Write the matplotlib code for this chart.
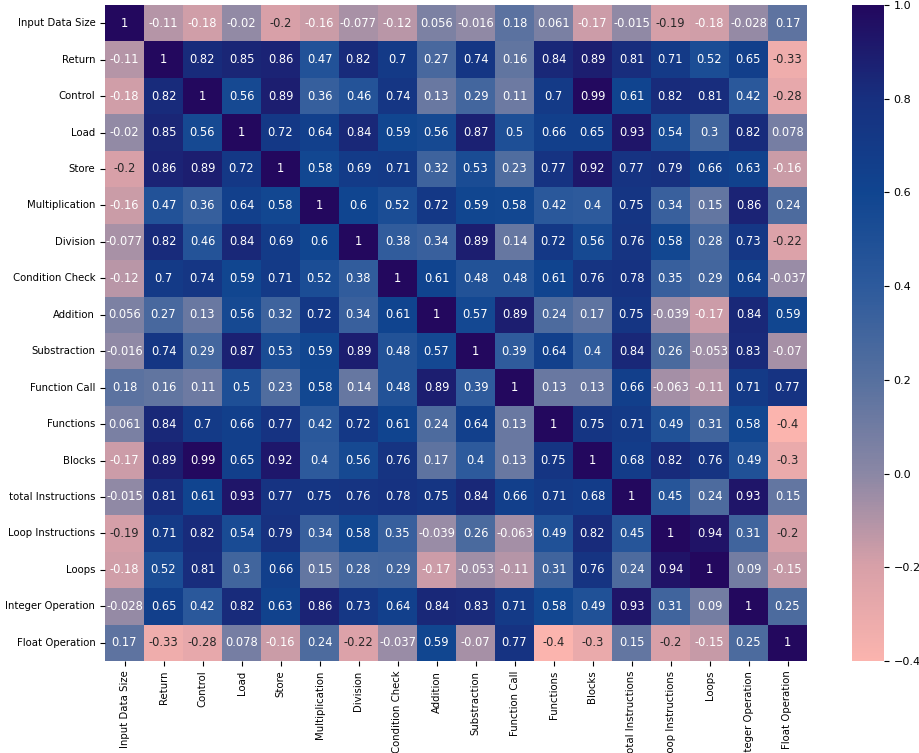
import matplotlib
matplotlib.use("Agg")
import matplotlib.pyplot as plt
import seaborn as sns
import pandas as pd
from matplotlib.colors import LinearSegmentedColormap

labels = ["Input Data Size", "Return", "Control", "Load", "Store", "Multiplication",
          "Division", "Condition Check", "Addition", "Substraction", "Function Call",
          "Functions", "Blocks", "total Instructions", "Loop Instructions", "Loops",
          "Integer Operation", "Float Operation"]

corr = [
    [1, -0.11, -0.18, -0.02, -0.2, -0.16, -0.077, -0.12, 0.056, -0.016, 0.18, 0.061, -0.17, -0.015, -0.19, -0.18, -0.028, 0.17],
    [-0.11, 1, 0.82, 0.85, 0.86, 0.47, 0.82, 0.7, 0.27, 0.74, 0.16, 0.84, 0.89, 0.81, 0.71, 0.52, 0.65, -0.33],
    [-0.18, 0.82, 1, 0.56, 0.89, 0.36, 0.46, 0.74, 0.13, 0.29, 0.11, 0.7, 0.99, 0.61, 0.82, 0.81, 0.42, -0.28],
    [-0.02, 0.85, 0.56, 1, 0.72, 0.64, 0.84, 0.59, 0.56, 0.87, 0.5, 0.66, 0.65, 0.93, 0.54, 0.3, 0.82, 0.078],
    [-0.2, 0.86, 0.89, 0.72, 1, 0.58, 0.69, 0.71, 0.32, 0.53, 0.23, 0.77, 0.92, 0.77, 0.79, 0.66, 0.63, -0.16],
    [-0.16, 0.47, 0.36, 0.64, 0.58, 1, 0.6, 0.52, 0.72, 0.59, 0.58, 0.42, 0.4, 0.75, 0.34, 0.15, 0.86, 0.24],
    [-0.077, 0.82, 0.46, 0.84, 0.69, 0.6, 1, 0.38, 0.34, 0.89, 0.14, 0.72, 0.56, 0.76, 0.58, 0.28, 0.73, -0.22],
    [-0.12, 0.7, 0.74, 0.59, 0.71, 0.52, 0.38, 1, 0.61, 0.48, 0.48, 0.61, 0.76, 0.78, 0.35, 0.29, 0.64, -0.037],
    [0.056, 0.27, 0.13, 0.56, 0.32, 0.72, 0.34, 0.61, 1, 0.57, 0.89, 0.24, 0.17, 0.75, -0.039, -0.17, 0.84, 0.59],
    [-0.016, 0.74, 0.29, 0.87, 0.53, 0.59, 0.89, 0.48, 0.57, 1, 0.39, 0.64, 0.4, 0.84, 0.26, -0.053, 0.83, -0.07],
    [0.18, 0.16, 0.11, 0.5, 0.23, 0.58, 0.14, 0.48, 0.89, 0.39, 1, 0.13, 0.13, 0.66, -0.063, -0.11, 0.71, 0.77],
    [0.061, 0.84, 0.7, 0.66, 0.77, 0.42, 0.72, 0.61, 0.24, 0.64, 0.13, 1, 0.75, 0.71, 0.49, 0.31, 0.58, -0.4],
    [-0.17, 0.89, 0.99, 0.65, 0.92, 0.4, 0.56, 0.76, 0.17, 0.4, 0.13, 0.75, 1, 0.68, 0.82, 0.76, 0.49, -0.3],
    [-0.015, 0.81, 0.61, 0.93, 0.77, 0.75, 0.76, 0.78, 0.75, 0.84, 0.66, 0.71, 0.68, 1, 0.45, 0.24, 0.93, 0.15],
    [-0.19, 0.71, 0.82, 0.54, 0.79, 0.34, 0.58, 0.35, -0.039, 0.26, -0.063, 0.49, 0.82, 0.45, 1, 0.94, 0.31, -0.2],
    [-0.18, 0.52, 0.81, 0.3, 0.66, 0.15, 0.28, 0.29, -0.17, -0.053, -0.11, 0.31, 0.76, 0.24, 0.94, 1, 0.09, -0.15],
    [-0.028, 0.65, 0.42, 0.82, 0.63, 0.86, 0.73, 0.64, 0.84, 0.83, 0.71, 0.58, 0.49, 0.93, 0.31, 0.09, 1, 0.25],
    [0.17, -0.33, -0.28, 0.078, -0.16, 0.24, -0.22, -0.037, 0.59, -0.07, 0.77, -0.4, -0.3, 0.15, -0.2, -0.15, 0.25, 1],
]

cbar_ticks = [-0.4, -0.2, 0.0, 0.2, 0.4, 0.6, 0.8, 1.0]

df = pd.DataFrame(corr, index=labels, columns=labels)

# pink -> greyish purple -> blue -> navy -> indigo
cmap = LinearSegmentedColormap.from_list("pinkblue", [
    (0.0, "#fbb4ae"),
    (0.143, "#d8a0a8"),
    (0.286, "#8a87a5"),
    (0.429, "#56709f"),
    (0.571, "#2d5a9c"),
    (0.714, "#104590"),
    (0.857, "#17307f"),
    (1.0, "#23085e"),
])

fig = plt.figure(figsize=(9.19, 7.53), dpi=100)
ax = fig.add_axes([105 / 919, 92 / 753, 702 / 919, 656 / 753])
cax = fig.add_axes([852 / 919, 92 / 753, 32 / 919, 656 / 753])

sns.heatmap(df, annot=True, cmap=cmap, vmin=-0.4, vmax=1.0, ax=ax, cbar_ax=cax,
            annot_kws={"fontsize": 8.3}, cbar_kws={"ticks": cbar_ticks})

ax.tick_params(axis="both", labelsize=7.3)
ax.set_xticklabels(labels, rotation=90)
ax.set_yticklabels(labels, rotation=0)
cax.tick_params(labelsize=8)

fig.savefig("out.png", dpi=100)
